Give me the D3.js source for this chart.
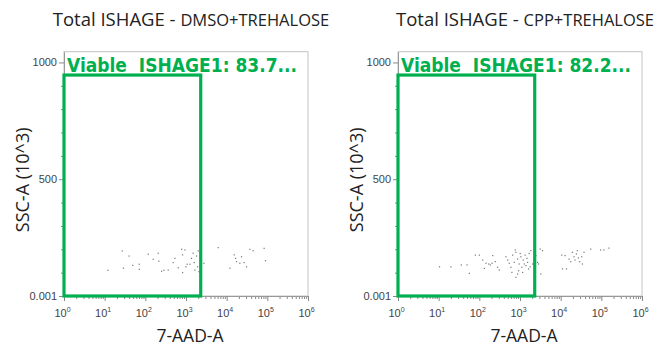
<!DOCTYPE html>
<html>
<head>
<meta charset="utf-8">
<script src="https://cdn.jsdelivr.net/npm/d3@7"></script>
<style>
  body { margin: 0; background: #fff; }
  svg { display: block; }
</style>
</head>
<body>
<div class="svg-container"></div>
<script>
const titles = ['Total ISHAGE - ', 'Total ISHAGE - ']
const conditions = ['DMSO+TREHALOSE', 'CPP+TREHALOSE']
const gateNames = ['Viable  ISHAGE1: 83.7...', 'Viable  ISHAGE1: 82.2...']
const gateAAD = [1, 2300]
const gateSSC = [0, 946]

const xTicks = [1, 10, 100, 1000, 10000, 100000, 1000000]
const yTicks = [0, 500, 1000]
const yTickLabels = ['0.001', '500', '1000']

const dmsoAAD = [12, 27, 29, 40, 49, 71, 71, 118, 156, 207, 216, 251, 286, 365, 485, 534, 643, 780, 825, 825,
  940, 995, 1070, 1250, 1370, 1500, 1590, 1650, 1820, 1930, 1990, 2080, 2750, 6180, 12000, 15300, 16600, 17500,
  21100, 23200, 26900, 30800, 37200, 44800, 83400, 90300]
const dmsoSSC = [110, 193, 119, 171, 131, 136, 114, 179, 157, 183, 149, 106, 110, 111, 143, 161, 121, 200, 176, 100,
  197, 125, 136, 136, 161, 183, 143, 111, 171, 125, 193, 104, 140, 207, 119, 176, 161, 147,
  140, 168, 143, 125, 200, 194, 204, 151]

const cppAAD = [10.5, 20, 36, 50, 57, 80, 100, 121, 133, 146, 170, 186, 205, 247, 213, 282, 309, 451, 497, 544,
  598, 633, 659, 721, 763, 794, 794, 873, 873, 925, 956, 1010, 1050, 1110, 1160, 1200, 1270, 1340, 1400, 1480,
  1540, 1630, 1680, 1780, 1850, 2040, 2230, 2460, 2700, 2860, 3130, 3250, 3580, 10600, 11100, 12800, 13900,
  16100, 17700, 19500, 21300, 22500, 24400, 25800, 27300, 29400, 32900, 34200, 37500, 54700, 96100, 115800, 153600]
const cppSSC = [125, 125, 133, 133, 97, 175, 175, 154, 118, 140, 137, 133, 140, 147, 173, 123, 111, 168, 154, 140,
  123, 101, 175, 144, 197, 187, 80, 158, 94, 108, 137, 182, 168, 123, 101, 154, 137, 175, 130, 161,
  144, 116, 182, 125, 194, 137, 158, 173, 144, 137, 201, 94, 194, 175, 116, 173, 116,
  158, 147, 187, 168, 154, 180, 194, 163, 147, 168, 137, 187, 201, 197, 197, 205]

const aadSets = [dmsoAAD, cppAAD]
const sscSets = [dmsoSSC, cppSSC]

const width = 672
const height = 349
const green = '#00b050'

const svg = d3.select('.svg-container')
  .append('svg')
  .attr('width', width)
  .attr('height', height)
  .style('font-family', 'Liberation Sans, Arial, sans-serif')

const panelLeft = [64, 398]
const plotWidth = 244
const plotTop = 51.7
const plotBottom = 296

const minorX = []
for (let p = 0; p < 6; p++) {
  for (let m = 2; m < 10; m++) minorX.push(m * Math.pow(10, p))
}
const minorY = d3.range(100, 1000, 100).filter(v => v !== 500)

panelLeft.forEach((left, i) => {
  const xScale = d3.scaleLog([1, 1e6], [left, left + plotWidth])
  const yScale = d3.scaleLinear([0, 1046], [plotBottom, plotTop])

  const g = svg.append('g')

  // title
  const title = g.append('text')
    .attr('x', left + plotWidth / 2 + 5)
    .attr('y', 26)
    .attr('text-anchor', 'middle')
    .attr('fill', '#222')
    .style('font-family', 'Open Sans, sans-serif')
  title.append('tspan').attr('font-size', 18.5).text(titles[i])
  title.append('tspan').attr('font-size', 16.5).text(conditions[i])

  // frame
  g.append('rect')
    .attr('x', left)
    .attr('y', plotTop)
    .attr('width', plotWidth)
    .attr('height', plotBottom - plotTop)
    .attr('fill', 'none')
    .attr('stroke', '#c4c4c4')

  // minor ticks
  g.append('g')
    .attr('transform', `translate(0, ${plotBottom})`)
    .call(d3.axisBottom(xScale).tickValues(minorX).tickSize(3).tickFormat(''))
    .call(a => a.select('.domain').remove())
    .selectAll('line').attr('stroke', '#888')

  g.append('g')
    .attr('transform', `translate(${left}, 0)`)
    .call(d3.axisLeft(yScale).tickValues(minorY).tickSize(3).tickFormat(''))
    .call(a => a.select('.domain').remove())
    .selectAll('line').attr('stroke', '#888')

  // major axes
  const xAxis = g.append('g')
    .attr('transform', `translate(0, ${plotBottom})`)
    .call(d3.axisBottom(xScale).tickValues(xTicks).tickSize(5).tickSizeOuter(0))
  xAxis.select('.domain').attr('stroke', '#999')
  xAxis.selectAll('line').attr('stroke', '#888')
  xAxis.selectAll('.tick text')
    .text(null)
    .attr('fill', '#444')
    .attr('font-size', 11)
    .attr('dy', '1.15em')
    .attr('dx', -2)
    .each(function (d) {
      const t = d3.select(this)
      t.append('tspan').text('10')
      t.append('tspan').attr('dy', -5).attr('font-size', 7).text(Math.round(Math.log10(d)))
    })

  const yAxis = g.append('g')
    .attr('transform', `translate(${left}, 0)`)
    .call(d3.axisLeft(yScale).tickValues(yTicks).tickSize(5).tickSizeOuter(0)
      .tickFormat((d, k) => yTickLabels[k]))
  yAxis.select('.domain').attr('stroke', '#999')
  yAxis.selectAll('line').attr('stroke', '#888')
  yAxis.selectAll('.tick text')
    .attr('fill', '#444')
    .attr('font-size', 11)
    .attr('x', -7)

  // events
  const points = aadSets[i].map((v, k) => [v, sscSets[i][k]])
  g.append('g')
    .selectAll('rect')
    .data(points)
    .join('rect')
    .attr('x', d => xScale(d[0]) - 0.6)
    .attr('y', d => yScale(d[1]) - 0.6)
    .attr('width', 1.2)
    .attr('height', 1.2)
    .attr('fill', '#777')

  // gate
  g.append('rect')
    .attr('x', xScale(gateAAD[0]))
    .attr('y', yScale(gateSSC[1]))
    .attr('width', xScale(gateAAD[1]) - xScale(gateAAD[0]))
    .attr('height', yScale(gateSSC[0]) - yScale(gateSSC[1]))
    .attr('fill', 'none')
    .attr('stroke', green)
    .attr('stroke-width', 3.2)

  g.append('text')
    .attr('x', left + 3)
    .attr('y', 72)
    .attr('fill', green)
    .attr('font-weight', 'bold')
    .attr('font-size', 19)
    .style('font-family', 'DejaVu Sans Condensed, DejaVu Sans, sans-serif')
    .style('white-space', 'pre')
    .text(gateNames[i])

  // axis labels
  g.append('text')
    .attr('x', left + plotWidth / 2 + 4)
    .attr('y', 342)
    .attr('text-anchor', 'middle')
    .attr('font-size', 17.5)
    .attr('fill', '#222')
    .style('font-family', 'Open Sans, sans-serif')
    .text('7-AAD-A')

  g.append('text')
    .attr('transform', `translate(${left - 35}, ${(plotTop + plotBottom) / 2 + 6}) rotate(-90)`)
    .attr('text-anchor', 'middle')
    .attr('font-size', 18)
    .attr('fill', '#222')
    .style('font-family', 'Open Sans, sans-serif')
    .text('SSC-A (10^3)')
})
</script>
</body>
</html>
